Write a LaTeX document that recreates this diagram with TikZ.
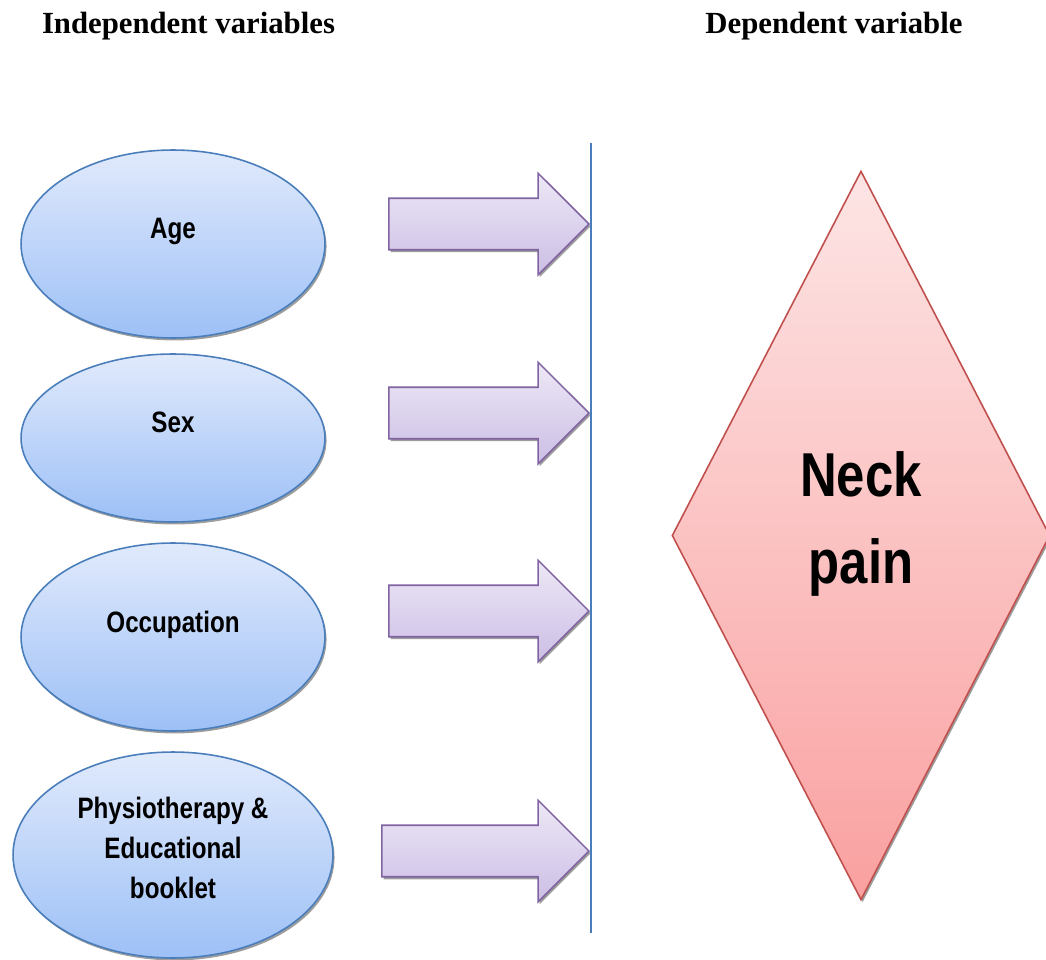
\documentclass[tikz,border=0pt]{standalone}
\usepackage{fontspec}
\setmainfont{Liberation Serif}
\newfontfamily\narrowfont[FakeStretch=0.82]{Liberation Sans}
\usetikzlibrary{shapes.geometric,shapes.arrows,shadows}

\definecolor{elltop}{RGB}{225,234,252}
\definecolor{ellbot}{RGB}{157,192,246}
\definecolor{ellline}{RGB}{74,126,187}
\definecolor{arrtop}{RGB}{237,232,246}
\definecolor{arrbot}{RGB}{204,190,229}
\definecolor{arrline}{RGB}{128,100,162}
\definecolor{diatop}{RGB}{253,229,229}
\definecolor{diabot}{RGB}{250,160,160}
\definecolor{dialine}{RGB}{192,80,77}

\begin{document}
\begin{tikzpicture}[x=0.02cm, y=-0.02cm,
    thinshadow/.style={drop shadow={shadow xshift=0.9pt, shadow yshift=-1.4pt, fill=black!70, opacity=0.55}},
    varell/.style={ellipse, draw=ellline, line width=0.9pt, top color=elltop, bottom color=ellbot,
        inner sep=0pt, minimum width=6.08cm, minimum height=3.76cm, thinshadow},
    vartext/.style={font=\narrowfont\bfseries\fontsize{16.8pt}{22.8pt}\selectfont, align=center},
    blockarrow/.style={single arrow, draw=arrline, line width=0.9pt, top color=arrtop, bottom color=arrbot,
        inner xsep=0pt, inner ysep=0.5cm, minimum height=4cm, single arrow head extend=0.5cm,
        anchor=tip, thinshadow},
    title/.style={font=\bfseries\fontsize{17.5pt}{21pt}\selectfont, anchor=base}]
    \useasboundingbox (0,0) rectangle (1046,960);

    % titles
    \node[title] (indep) at (188.5,33) {Independent variables};
    \node[title] (dep) at (834,33) {Dependent variable};

    % independent variables
    \node[varell] (age) at (173,244) {};
    \node[vartext, anchor=base] (agetxt) at (173,238) {Age};
    \node[varell, minimum height=3.36cm] (sex) at (173,438) {};
    \node[vartext, anchor=base] (sextxt) at (173,432) {Sex};
    \node[varell] (occ) at (173,637) {};
    \node[vartext, anchor=base] (occtxt) at (173,632) {Occupation};
    \node[varell, minimum width=6.4cm, minimum height=4.12cm] (phys) at (173,855) {};
    \node[vartext] (phystxt) at (173,848) {Physiotherapy \&\\Educational\\booklet};

    % arrows
    \node[blockarrow] (arr1) at (590,224) {};
    \node[blockarrow] (arr2) at (590,413) {};
    \node[blockarrow] (arr3) at (590,611) {};
    \node[blockarrow, minimum height=4.14cm] (arr4) at (590,851) {};

    % separating line
    \coordinate (ltop) at (591,143);
    \coordinate (lbot) at (591,933);
    \draw[ellline, line width=0.9pt] (ltop) -- (lbot);

    % dependent variable
    \node[diamond, draw=dialine, line width=0.9pt, top color=diatop, bottom color=diabot, inner sep=0pt,
        minimum width=7.56cm, minimum height=14.58cm, thinshadow] (pain) at (861,535.5) {};
    \node[font=\narrowfont\bfseries\fontsize{35.3pt}{50pt}\selectfont, align=center] (paintxt) at (861,524) {Neck\\pain};
\end{tikzpicture}
\end{document}
